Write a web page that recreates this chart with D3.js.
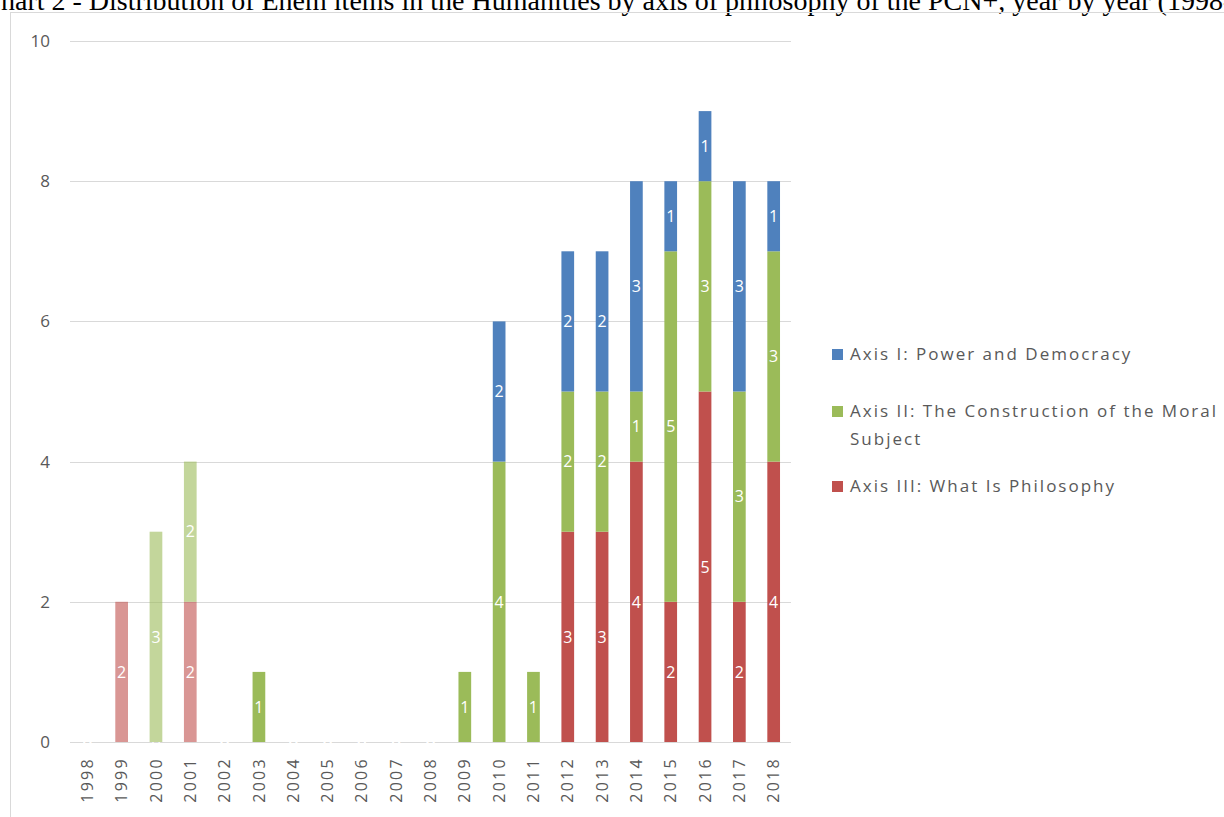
<!DOCTYPE html>
<html>
<head>
<meta charset="utf-8">
<script src="https://cdn.jsdelivr.net/npm/d3@7"></script>
<style>
  body { margin: 0; background: #fff; overflow: hidden; }
  svg { display: block; }
</style>
</head>
<body>
<div class="chart"></div>
<script>
// Data
const years = ["1998", "1999", "2000", "2001", "2002", "2003", "2004", "2005", "2006", "2007",
  "2008", "2009", "2010", "2011", "2012", "2013", "2014", "2015", "2016", "2017", "2018"];
const axisIII = [0, 2, 0, 2, 0, 0, 0, 0, 0, 0, 0, 0, 0, 0, 3, 3, 4, 2, 5, 2, 4];
const axisII  = [0, 0, 3, 2, 0, 1, 0, 0, 0, 0, 0, 1, 4, 1, 2, 2, 1, 5, 3, 3, 3];
const axisI   = [0, 0, 0, 0, 0, 0, 0, 0, 0, 0, 0, 0, 2, 0, 2, 2, 3, 1, 1, 3, 1];
const seriesNames = [
  "Axis III: What Is Philosophy",
  "Axis II: The Construction of the Moral Subject",
  "Axis I: Power and Democracy"
];
const yTicks = [0, 2, 4, 6, 8, 10];
const titleText = "Chart 2 - Distribution of Enem items in the Humanities by axis of philosophy of the PCN+, year by year (1998-2018)";

const svgWidth = 1224;
const svgHeight = 817;

const margin = { top: 41, right: 433, bottom: 75, left: 70 };
const width = svgWidth - margin.left - margin.right;
const height = svgHeight - margin.top - margin.bottom;

const colors = ["#c0504d", "#9bbb59", "#4f81bd"];

const svg = d3.select(".chart")
  .append("svg")
  .attr("width", svgWidth)
  .attr("height", svgHeight);

// page title, cut off by the screenshot
const title = svg.append("text")
  .attr("y", 10)
  .attr("font-family", "Liberation Serif, Times New Roman, serif")
  .attr("font-size", 28)
  .attr("fill", "#000")
  .text(titleText);
const probe = svg.append("text")
  .attr("font-family", "Liberation Serif, Times New Roman, serif")
  .attr("font-size", 28)
  .text("C");
title.attr("x", -probe.node().getComputedTextLength() + 1);
probe.remove();

// chart frame
svg.append("rect")
  .attr("x", 10.5)
  .attr("y", 12.5)
  .attr("width", svgWidth)
  .attr("height", svgHeight)
  .attr("fill", "none")
  .attr("stroke", "#d9d9d9");

const chartGroup = svg.append("g")
  .attr("transform", `translate(${margin.left}, ${margin.top})`);

const xScale = d3.scaleBand()
  .domain(years)
  .range([0, width])
  .paddingInner(0.63)
  .paddingOuter(0.32);

const yScale = d3.scaleLinear()
  .domain([0, 10])
  .range([height, 0]);

// gridlines
chartGroup.append("g")
  .selectAll("line")
  .data(yTicks)
  .enter()
  .append("line")
  .attr("x1", 0)
  .attr("x2", width)
  .attr("y1", d => Math.round(yScale(d)) + 0.5)
  .attr("y2", d => Math.round(yScale(d)) + 0.5)
  .attr("stroke", "#d9d9d9")
  .attr("stroke-width", 1.2);

// y labels
const leftAxis = d3.axisLeft(yScale).tickValues(yTicks).tickSize(0).tickPadding(20);
const yAxis = chartGroup.append("g").call(leftAxis);
yAxis.select(".domain").remove();
yAxis.selectAll("text")
  .attr("font-family", "Open Sans, sans-serif")
  .attr("font-size", 17)
  .attr("fill", "#595959");

// x labels
const bottomAxis = d3.axisBottom(xScale).tickSize(0);
const xAxis = chartGroup.append("g")
  .attr("transform", `translate(0, ${height})`)
  .call(bottomAxis);
xAxis.select(".domain").remove();
xAxis.selectAll("text")
  .attr("font-family", "Open Sans, sans-serif")
  .attr("font-size", 16)
  .attr("letter-spacing", 2.3)
  .attr("fill", "#595959")
  .attr("text-anchor", "end")
  .attr("transform", "rotate(-90)")
  .attr("x", -15)
  .attr("y", 0)
  .attr("dy", "0.35em");

// stack
const table = years.map((y, i) => ({ year: y, s0: axisIII[i], s1: axisII[i], s2: axisI[i] }));
const stacked = d3.stack().keys(["s0", "s1", "s2"])(table);

const faded = d => +d.data.year <= 2001;

const layers = chartGroup.selectAll(".layer")
  .data(stacked)
  .enter()
  .append("g")
  .attr("class", "layer")
  .attr("fill", (d, i) => colors[i]);

layers.selectAll("rect")
  .data(d => d)
  .enter()
  .append("rect")
  .attr("x", d => xScale(d.data.year))
  .attr("y", d => yScale(d[1]))
  .attr("width", xScale.bandwidth())
  .attr("height", d => yScale(d[0]) - yScale(d[1]))
  .attr("opacity", d => faded(d) ? 0.6 : 1);

// data labels; zero labels only where the whole year is empty (they sit on the baseline)
const total = i => axisIII[i] + axisII[i] + axisI[i];
layers.selectAll("text")
  .data(d => d.filter(p => p[1] - p[0] > 0 || total(years.indexOf(p.data.year)) === 0 || (p.data.year === "2000" && p[0] === 0 && p[1] === 0)))
  .enter()
  .append("text")
  .attr("x", d => xScale(d.data.year) + xScale.bandwidth() / 2)
  .attr("y", d => yScale((d[0] + d[1]) / 2))
  .attr("dy", "0.36em")
  .attr("text-anchor", "middle")
  .attr("font-family", "Open Sans, sans-serif")
  .attr("font-size", 16)
  .attr("fill", "#fff")
  .text(d => d[1] - d[0]);

// legend
const legendItems = [
  { name: seriesNames[2], color: colors[2], y: 354 },
  { name: seriesNames[1], color: colors[1], y: 411 },
  { name: seriesNames[0], color: colors[0], y: 486 }
];
const legend = svg.append("g");
legendItems.forEach(item => {
  legend.append("rect")
    .attr("x", 832)
    .attr("y", item.y - 5)
    .attr("width", 11)
    .attr("height", 11)
    .attr("fill", item.color);
  const words = item.name === seriesNames[1]
    ? ["Axis II: The Construction of the Moral", "Subject"]
    : [item.name];
  words.forEach((line, j) => {
    legend.append("text")
      .attr("x", 850)
      .attr("y", item.y + j * 28)
      .attr("dy", "0.36em")
      .attr("font-family", "Open Sans, sans-serif")
      .attr("font-size", 17)
      .attr("letter-spacing", 2)
      .attr("fill", "#595959")
      .text(line);
  });
});
</script>
</body>
</html>
